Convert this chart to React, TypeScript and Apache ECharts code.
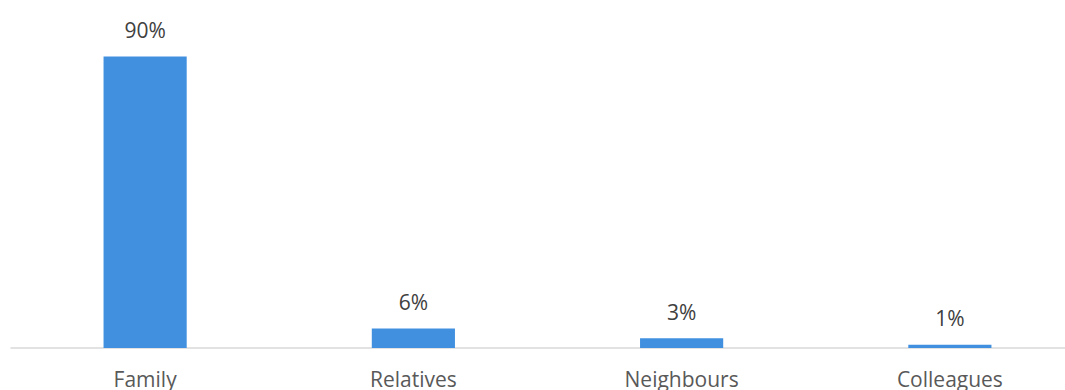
import React, { useEffect, useRef } from "react";
import * as echarts from "echarts";

const categories = ["Family", "Relatives", "Neighbours", "Colleagues"];
const values = [90, 6, 3, 1];

export default function App() {
  const ref = useRef<HTMLDivElement>(null);
  useEffect(() => {
    if (!ref.current) return;
    const chart = echarts.init(ref.current, undefined, { renderer: "svg" });
    chart.setOption({
      animation: false,
      textStyle: { fontFamily: "Open Sans" },
      grid: { left: 11, right: 0, top: 24, bottom: 42, containLabel: false },
      xAxis: {
        type: "category",
        data: categories,
        axisLine: { lineStyle: { color: "#d9d9d9", width: 1.5 } },
        axisTick: { show: false },
        axisLabel: { color: "#595959", fontSize: 21, margin: 20, fontFamily: "Open Sans" },
      },
      yAxis: {
        type: "value",
        min: 0,
        max: 100,
        show: false,
        splitLine: { show: false },
      },
      series: [
        {
          type: "bar",
          data: values,
          barWidth: "31%",
          itemStyle: { color: "#4190e0" },
          label: {
            show: true,
            position: "top",
            distance: 16,
            formatter: "{c}%",
            color: "#404040",
            fontSize: 21,
            fontFamily: "Open Sans",
          },
        },
      ],
    });
    return () => chart.dispose();
  }, []);
  return (
    <div style={{ width: 1065, height: 390, position: "absolute", left: 0, top: 0, overflow: "hidden" }}>
      <div ref={ref} style={{ width: 1084, height: 390 }} />
    </div>
  );
}
